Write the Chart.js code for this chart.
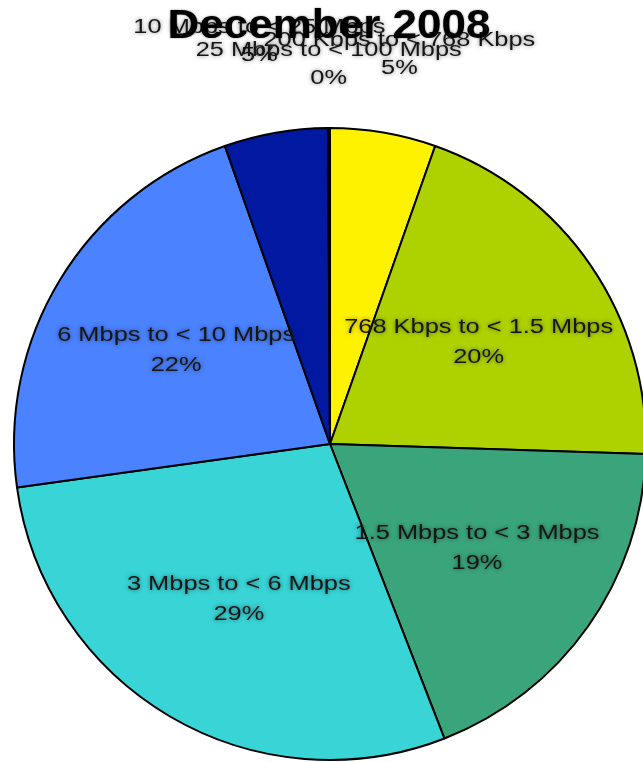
<!DOCTYPE html>
<html>
<head>
<meta charset="utf-8">
<title>December 2008</title>
<script src="https://cdn.jsdelivr.net/npm/chart.js@4/dist/chart.umd.min.js"></script>
<style>
    html, body { margin: 0; padding: 0; background: #fff; overflow: hidden; }
    #wrap { position: absolute; left: 0; top: 0; width: 660px; height: 780px; }
</style>
</head>
<body>
<div id="wrap"><canvas id="pie_chart"></canvas></div>
<script>
const title = 'December 2008';
const categories = [
    '200 Kbps to < 768 Kbps',
    '768 Kbps to < 1.5 Mbps',
    '1.5 Mbps to < 3 Mbps',
    '3 Mbps to < 6 Mbps',
    '6 Mbps to < 10 Mbps',
    '10 Mbps to < 25 Mbps',
    '25 Mbps to < 100 Mbps'
];
const shares = [5.4, 20.1, 18.6, 28.7, 21.8, 5.3, 0.1];
const colors = ['#fff200', '#add200', '#3aa57a', '#38d4d6', '#4a82ff', '#0019a0', '#7f7f7f'];

// small slices get their label pushed up above the pie (line 1 centre y)
const outsideRows = { 0: 40, 5: 27, 6: 50 };

function stretchText(ctx, text, x, y, sx) {
    ctx.save();
    ctx.translate(x, y);
    ctx.scale(sx, 1);
    ctx.fillText(text, 0, 0);
    ctx.restore();
}

const sliceLabels = {
    id: 'sliceLabels',
    afterDraw(chart) {
        let ctx = chart.ctx;
        let meta = chart.getDatasetMeta(0);
        let total = shares.reduce((a, b) => a + b, 0);
        ctx.save();
        ctx.font = '20px "Liberation Sans", Arial, sans-serif';
        ctx.textAlign = 'center';
        ctx.textBaseline = 'middle';
        ctx.fillStyle = '#161616';
        ctx.shadowColor = 'rgba(0,0,0,0.5)';
        ctx.shadowBlur = 4;
        meta.data.forEach((arc, i) => {
            let p = arc.getProps(['x', 'y', 'startAngle', 'endAngle', 'outerRadius'], true);
            let mid = (p.startAngle + p.endAngle) / 2;
            let pct = Math.round(shares[i] / total * 100) + '%';
            let lx, ly, gap;
            if (i in outsideRows) {
                lx = p.x + Math.cos(mid) * p.outerRadius * 1.3;
                ly = outsideRows[i];
                gap = 28;
            } else {
                lx = p.x + Math.cos(mid) * p.outerRadius * 0.57;
                ly = p.y + Math.sin(mid) * p.outerRadius * 0.57 - 15;
                gap = 30;
            }
            stretchText(ctx, categories[i], lx, ly, 1.27);
            stretchText(ctx, pct, lx, ly + gap, 1.27);
        });
        // title goes on top of everything
        ctx.shadowBlur = 2;
        ctx.fillStyle = '#000';
        ctx.font = 'bold 40px "Liberation Sans", Arial, sans-serif';
        ctx.textBaseline = 'alphabetic';
        stretchText(ctx, title, 329, 38, 1.1);
        ctx.restore();
    }
};

let data = {
    labels: categories,
    datasets: [{
        data: shares,
        backgroundColor: colors,
        borderColor: '#000',
        borderWidth: 2
    }]
};

let config = {
    type: 'pie',
    data,
    options: {
        responsive: true,
        maintainAspectRatio: false,
        animation: false,
        layout: { padding: { left: 13, top: 127, right: 13, bottom: 19 } },
        plugins: {
            legend: { display: false },
            tooltip: { enabled: false }
        }
    },
    plugins: [sliceLabels]
};

let pie_chart = new Chart(document.getElementById('pie_chart'), config);
</script>
</body>
</html>
